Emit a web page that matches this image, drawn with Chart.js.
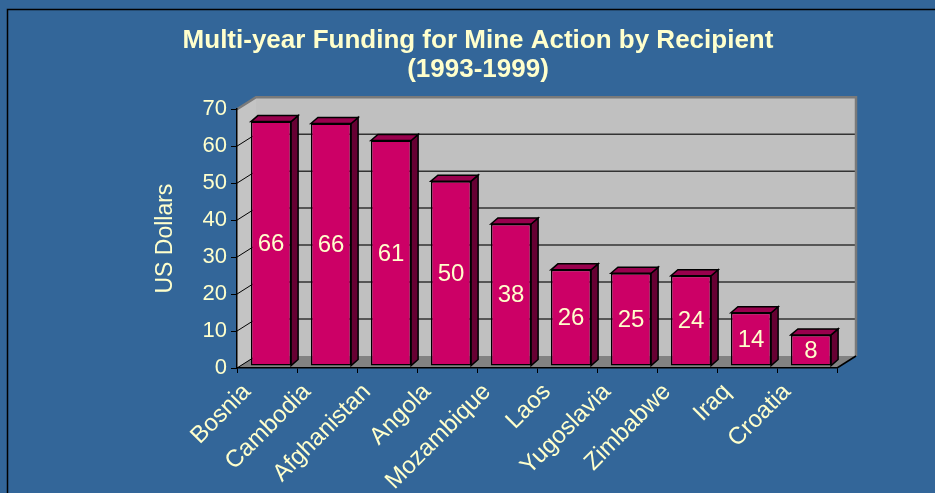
<!DOCTYPE html>
<html>
<head>
<meta charset="utf-8">
<title>Multi-year Funding for Mine Action by Recipient</title>
<script src="https://cdn.jsdelivr.net/npm/chart.js@4.4.1/dist/chart.umd.min.js"></script>
<style>
    html, body { margin: 0; padding: 0; background: #336699; }
    #wrap { width: 935px; height: 493px; }
</style>
</head>
<body>
<div id="wrap"><canvas id="fundingChart" width="935" height="493"></canvas></div>
<script>
// Données
var recipients = ['Bosnia', 'Cambodia', 'Afghanistan', 'Angola', 'Mozambique', 'Laos', 'Yugoslavia', 'Zimbabwe', 'Iraq', 'Croatia'];
var funding = [66.1, 65.6, 61, 50, 38.4, 26, 25.1, 24.4, 14.4, 8.4];
var yTicks = [0, 10, 20, 30, 40, 50, 60, 70];
var chartTitle = ['Multi-year Funding for Mine Action by Recipient', '(1993-1999)'];
var yAxisTitle = 'US Dollars';

var textColor = '#FFFFCC';
var wallDepth = { x: 19, y: -12 };
var barDepth = { x: 7, y: -6 };
var barShift = { x: 4, y: -2 };

Chart.defaults.font.family = "'Liberation Sans', Arial, sans-serif";

function poly(ctx, pts, fill, stroke, lw) {
    ctx.beginPath();
    ctx.moveTo(pts[0][0], pts[0][1]);
    for (var i = 1; i < pts.length; i++) ctx.lineTo(pts[i][0], pts[i][1]);
    ctx.closePath();
    if (fill) { ctx.fillStyle = fill; ctx.fill(); }
    if (stroke) { ctx.strokeStyle = stroke; ctx.lineWidth = lw || 1; ctx.stroke(); }
}

// murs, sol et grille en 3D
var wallsPlugin = {
    id: 'walls',
    beforeDraw: function(chart) {
        var ctx = chart.ctx;
        var a = chart.chartArea;
        var dx = wallDepth.x, dy = wallDepth.y;
        var yScale = chart.scales.y;
        ctx.save();

        // cadre noir
        ctx.strokeStyle = '#000';
        ctx.lineWidth = 1.5;
        ctx.beginPath();
        ctx.moveTo(7.5, 493);
        ctx.lineTo(7.5, 9.5);
        ctx.lineTo(935, 9.5);
        ctx.stroke();

        // mur du fond + mur de gauche
        ctx.fillStyle = '#C0C0C0';
        ctx.fillRect(a.left + dx, a.top + dy, a.width, a.height);
        poly(ctx, [[a.left, a.bottom], [a.left, a.top], [a.left + dx, a.top + dy], [a.left + dx, a.bottom + dy]], '#C4C4C4');

        // sol
        poly(ctx, [[a.left, a.bottom], [a.right, a.bottom], [a.right + dx, a.bottom + dy], [a.left + dx, a.bottom + dy]], '#828282');

        // quadrillage
        yTicks.forEach(function(v) {
            var py = yScale.getPixelForValue(v);
            if (v > 0) {
                ctx.strokeStyle = '#333333';
                ctx.lineWidth = 1.5;
                ctx.beginPath();
                ctx.moveTo(a.left + dx, py + dy);
                ctx.lineTo(a.right + dx, py + dy);
                ctx.stroke();
            }
            ctx.strokeStyle = '#000';
            ctx.lineWidth = 1;
            ctx.beginPath();
            ctx.moveTo(a.left, py);
            ctx.lineTo(a.left + dx, py + dy);
            ctx.stroke();
        });

        // bords des murs
        ctx.strokeStyle = '#7a7a7a';
        ctx.lineWidth = 2.5;
        ctx.beginPath();
        ctx.moveTo(a.left, a.top);
        ctx.lineTo(a.left + dx, a.top + dy);
        ctx.lineTo(a.right + dx, a.top + dy);
        ctx.lineTo(a.right + dx, a.bottom + dy);
        ctx.stroke();

        ctx.strokeStyle = '#000';
        ctx.lineWidth = 1.5;
        ctx.beginPath();
        ctx.moveTo(a.right, a.bottom);
        ctx.lineTo(a.right + dx, a.bottom + dy);
        ctx.stroke();
        ctx.restore();
    }
};

// côtés et dessus des barres, valeurs
var barsPlugin = {
    id: 'bars3d',
    beforeDatasetsDraw: function(chart) {
        chart.ctx.save();
        chart.ctx.translate(barShift.x, barShift.y);
    },
    afterDatasetsDraw: function(chart) {
        var ctx = chart.ctx;
        var meta = chart.getDatasetMeta(0);
        var bdx = barDepth.x, bdy = barDepth.y;
        meta.data.forEach(function(bar, i) {
            var p = bar.getProps(['x', 'y', 'base', 'width'], true);
            var l = p.x - p.width / 2, r = p.x + p.width / 2;
            poly(ctx, [[r, p.y], [r + bdx, p.y + bdy], [r + bdx, p.base + bdy], [r, p.base]], '#660033', '#000', 1.5);
            poly(ctx, [[l, p.y], [l + bdx, p.y + bdy], [r + bdx, p.y + bdy], [r, p.y]], '#99004D', '#000', 1.5);

            ctx.fillStyle = textColor;
            ctx.font = "24px 'Liberation Sans', Arial, sans-serif";
            ctx.textAlign = 'center';
            ctx.textBaseline = 'middle';
            ctx.fillText(Math.round(funding[i]), p.x, (p.y + p.base) / 2 + 1);
        });
        ctx.restore();
    }
};

var ctx = document.getElementById('fundingChart').getContext('2d');
var fundingChart = new Chart(ctx, {
    type: 'bar',
    data: {
        labels: recipients,
        datasets: [{
            data: funding,
            backgroundColor: '#CC0066',
            borderColor: '#000',
            borderWidth: 1.5,
            borderSkipped: false,
            barPercentage: 0.67,
            categoryPercentage: 1,
            clip: false
        }]
    },
    options: {
        responsive: false,
        animation: false,
        layout: { padding: { left: 119, right: 98, top: 0, bottom: 0 } },
        plugins: {
            legend: { display: false },
            tooltip: { enabled: false },
            title: {
                display: true,
                text: chartTitle,
                color: textColor,
                font: { size: 26, weight: 'bold', lineHeight: 1.1 },
                padding: { top: 27, bottom: 25 }
            }
        },
        scales: {
            x: {
                grid: { display: true, drawOnChartArea: false, offset: true, color: '#000', tickLength: 5 },
                border: { display: true, color: '#000', width: 1.5 },
                ticks: { color: textColor, font: { size: 24 }, minRotation: 45, maxRotation: 45, labelOffset: -20, padding: 5 },
                afterFit: function(scale) { scale.height = 125; }
            },
            y: {
                min: 0,
                max: 70,
                ticks: { stepSize: 10, color: textColor, font: { size: 22 }, padding: 4 },
                grid: { drawOnChartArea: false, color: '#000', tickLength: 6 },
                border: { display: true, color: '#000', width: 1.5 },
                title: { display: true, text: yAxisTitle, color: textColor, font: { size: 23 }, padding: { top: 33, bottom: 0 } },
                afterFit: function(scale) { scale.width = 118; }
            }
        }
    },
    plugins: [wallsPlugin, barsPlugin]
});
</script>
</body>
</html>
